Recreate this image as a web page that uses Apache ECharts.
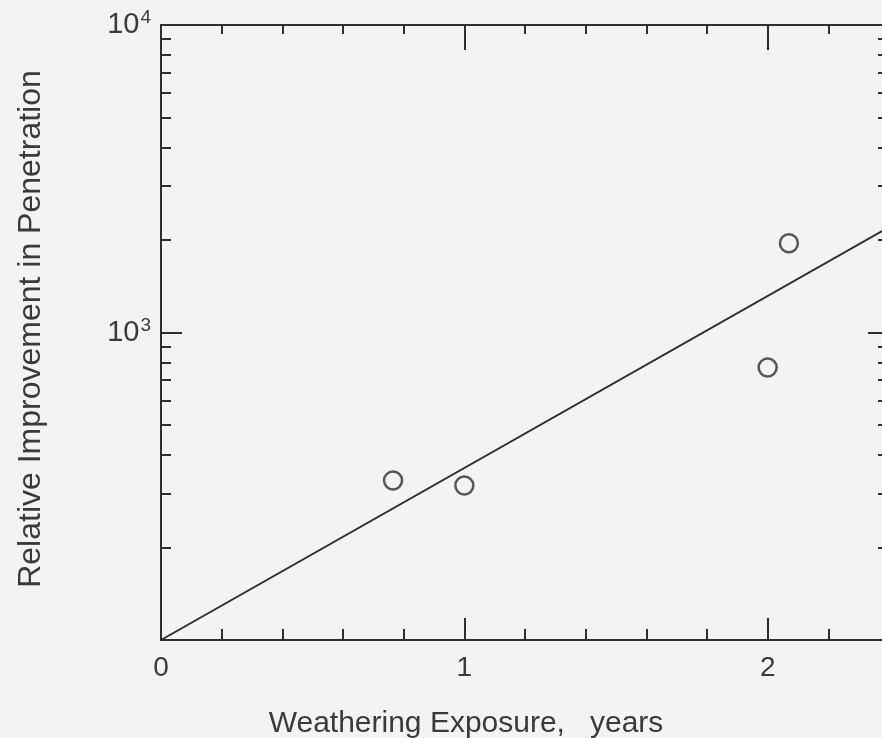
<!DOCTYPE html>
<html>
<head>
<meta charset="utf-8">
<script src="https://cdn.jsdelivr.net/npm/echarts@6/dist/echarts.min.js"></script>
<style>
  html, body { margin: 0; padding: 0; background: #f3f3f3; }
  #chart { width: 882px; height: 738px; }
</style>
</head>
<body>
<div id="chart"></div>
<script>
// measured points (years, relative improvement)
const exposureYears = [0.765, 1.0, 2.0, 2.07]
const improvement = [330, 318, 770, 1950]

// fitted line end points
const fitX = [0, 2.4]
const fitY = [100, 2200]

// tick positions
const xMajorTicks = [0, 1, 2]
const yMajorTicks = [100, 1000, 10000]
const yMinorTicks = [200, 300, 400, 500, 600, 700, 800, 900, 2000, 3000, 4000, 5000, 6000, 7000, 8000, 9000]

const ink = '#2e2e2e'
const textInk = '#3a3a3a'
const font = 'Liberation Sans, Arial, sans-serif'

const chart = echarts.init(document.getElementById('chart'))

function xAxisBase(position) {
  return {
    type: 'value',
    position,
    min: 0,
    max: 2.4,
    interval: 0.2,
    splitLine: { show: false },
    axisLine: { show: true, onZero: false, lineStyle: { color: ink, width: 2 } },
    axisLabel: { show: false },
  }
}

function yAxisBase(position) {
  return {
    type: 'log',
    position,
    min: 100,
    max: 10000,
    logBase: 10,
    splitLine: { show: false },
    axisLine: { show: true, onZero: false, lineStyle: { color: ink, width: 2 } },
    axisLabel: { show: false },
  }
}

const option = {
  backgroundColor: '#f3f3f3',
  animation: false,
  grid: { left: 161, top: 25, width: 728, height: 615, outerBoundsMode: 'none', containLabel: false },
  graphic: [
    {
      type: 'text',
      x: 466,
      y: 724,
      style: { text: 'Weathering Exposure,   years', fill: textInk, font: '30px ' + font, textAlign: 'center', textVerticalAlign: 'middle' },
    },
    {
      type: 'text',
      x: 31,
      y: 329,
      rotation: Math.PI / 2,
      style: { text: 'Relative Improvement in Penetration', fill: textInk, font: '32px ' + font, textAlign: 'center', textVerticalAlign: 'middle' },
    },
  ],
  xAxis: [
    Object.assign(xAxisBase('bottom'), {
      axisTick: { show: true, inside: true, length: 22, customValues: xMajorTicks, lineStyle: { color: ink, width: 2 } },
      axisLabel: { show: true, customValues: xMajorTicks, margin: 14, color: textInk, fontSize: 28, fontFamily: font },
    }),
    Object.assign(xAxisBase('bottom'), {
      axisTick: { show: true, inside: true, length: 11, lineStyle: { color: ink, width: 2 } },
    }),
    Object.assign(xAxisBase('top'), {
      axisTick: { show: true, inside: true, length: 25, customValues: xMajorTicks, lineStyle: { color: ink, width: 2 } },
    }),
    Object.assign(xAxisBase('top'), {
      axisTick: { show: true, inside: true, length: 9, lineStyle: { color: ink, width: 2 } },
    }),
  ],
  yAxis: [
    Object.assign(yAxisBase('left'), {
      axisTick: { show: true, inside: true, length: 21, customValues: yMajorTicks, lineStyle: { color: ink, width: 2 } },
      axisLabel: {
        show: true,
        customValues: [1000, 10000],
        margin: 10,
        color: textInk,
        fontSize: 29,
        fontFamily: font,
        formatter: v => '10{sup|' + Math.round(Math.log10(v)) + '}',
        rich: { sup: { fontSize: 19, fontFamily: font, color: textInk, verticalAlign: 'top', padding: [0, 0, 14, 1] } },
      },
    }),
    Object.assign(yAxisBase('left'), {
      axisTick: { show: true, inside: true, length: 10, customValues: yMinorTicks, lineStyle: { color: ink, width: 2 } },
    }),
    Object.assign(yAxisBase('right'), {
      axisTick: { show: true, inside: true, length: 21, customValues: yMajorTicks, lineStyle: { color: ink, width: 2 } },
    }),
    Object.assign(yAxisBase('right'), {
      axisTick: { show: true, inside: true, length: 11, customValues: yMinorTicks, lineStyle: { color: ink, width: 2 } },
    }),
  ],
  series: [
    {
      type: 'line',
      data: fitX.map((x, i) => [x, fitY[i]]),
      symbol: 'none',
      lineStyle: { color: ink, width: 2 },
      z: 2,
    },
    {
      type: 'scatter',
      data: exposureYears.map((x, i) => [x, improvement[i]]),
      symbol: 'circle',
      symbolSize: 18,
      itemStyle: { color: 'rgba(0,0,0,0)', borderColor: ink, borderWidth: 2.5 },
      z: 3,
    },
  ],
}

chart.setOption(option)
</script>
</body>
</html>
